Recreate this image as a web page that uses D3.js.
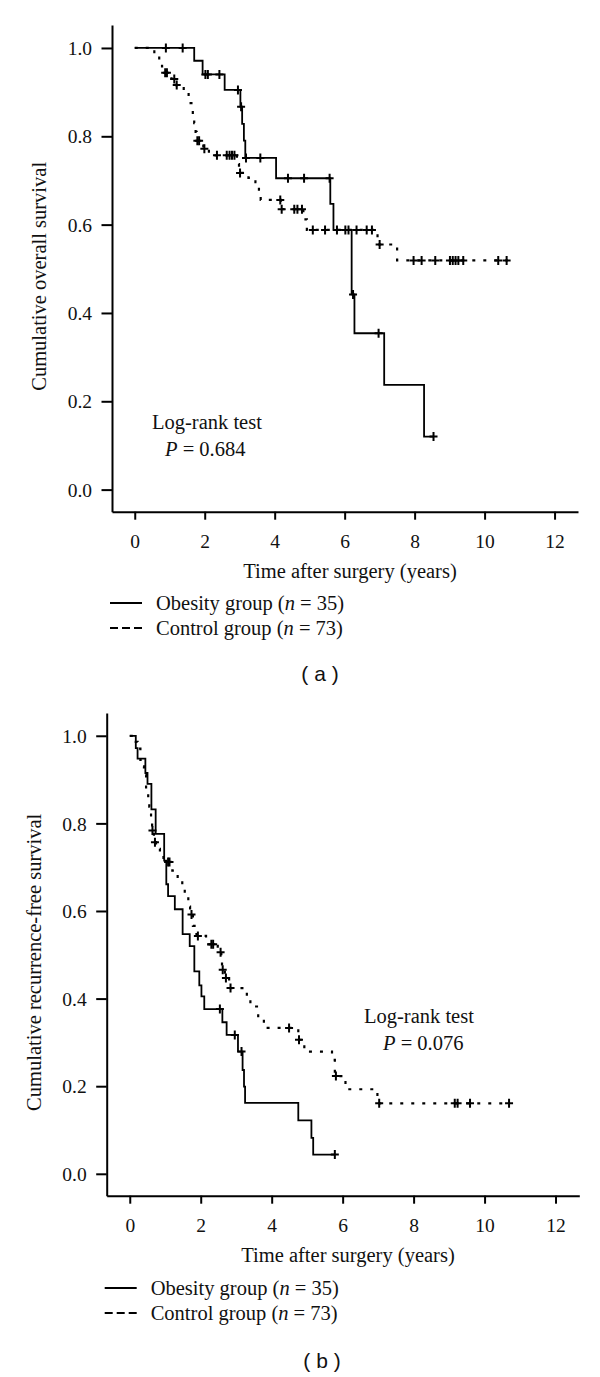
<!DOCTYPE html>
<html><head><meta charset="utf-8">
<script src="https://cdn.jsdelivr.net/npm/d3@7"></script>
<style>body{margin:0;background:#fff}svg{display:block}</style>
</head><body><svg id="c" width="600" height="1377"></svg>
<script>
// ---------- DATA ----------
const xTicks = [0, 2, 4, 6, 8, 10, 12];
const yTicks = [0.0, 0.2, 0.4, 0.6, 0.8, 1.0];
const groupLabels = ["Obesity group", "Control group"];
const groupN = [35, 73];

// Panel (a): overall survival
const timesA_obesity = [0, 1.70, 1.94, 2.57, 3.02, 3.07, 3.12, 3.16, 4.04, 5.59, 5.68, 6.20, 6.28, 7.13, 8.27, 8.54];
const survA_obesity  = [1.0, 0.971, 0.940, 0.905, 0.867, 0.828, 0.790, 0.751, 0.705, 0.647, 0.588, 0.442, 0.354, 0.237, 0.120, 0.120];
const censA_obesity  = [0.89, 1.37, 2.02, 2.09, 2.42, 2.95, 3.04, 3.18, 3.59, 4.38, 4.84, 5.57, 5.78, 6.11, 6.24, 6.97, 8.54];

const timesA_control = [0, 0.56, 0.70, 0.78, 0.85, 1.05, 1.18, 1.40, 1.54, 1.62, 1.66, 1.70, 1.74, 1.77, 1.96, 2.12, 2.92, 2.98, 3.25, 3.45, 3.55, 3.60, 4.18, 4.82, 4.92, 6.94, 7.50, 10.66];
const survA_control  = [1.0, 0.986, 0.972, 0.958, 0.944, 0.930, 0.916, 0.902, 0.875, 0.861, 0.847, 0.830, 0.810, 0.790, 0.772, 0.757, 0.737, 0.717, 0.706, 0.696, 0.676, 0.656, 0.635, 0.612, 0.588, 0.555, 0.519, 0.519];
const censA_control  = [0.87, 0.92, 1.13, 1.20, 1.79, 1.84, 1.99, 2.35, 2.63, 2.71, 2.78, 2.85, 3.01, 4.16, 4.20, 4.56, 4.65, 4.78, 5.09, 5.44, 6.02, 6.34, 6.63, 6.78, 7.00, 7.97, 8.20, 8.59, 9.01, 9.09, 9.17, 9.25, 9.39, 10.39, 10.63];

// Panel (b): recurrence-free survival
const timesB_obesity = [0, 0.17, 0.22, 0.44, 0.50, 0.61, 0.73, 0.97, 1.03, 1.08, 1.27, 1.49, 1.69, 1.82, 1.96, 2.02, 2.10, 2.61, 2.73, 3.05, 3.18, 3.22, 3.25, 4.75, 5.12, 5.17, 5.78];
const survB_obesity  = [1.0, 0.972, 0.948, 0.915, 0.890, 0.832, 0.776, 0.715, 0.661, 0.634, 0.604, 0.547, 0.520, 0.462, 0.430, 0.405, 0.376, 0.346, 0.317, 0.279, 0.237, 0.199, 0.162, 0.122, 0.082, 0.044, 0.044];
const censB_obesity  = [2.54, 2.96, 3.15, 5.78];

const timesB_control = [0, 0.17, 0.22, 0.30, 0.35, 0.40, 0.46, 0.52, 0.55, 0.60, 0.63, 0.68, 0.74, 0.85, 0.95, 1.20, 1.35, 1.48, 1.55, 1.65, 1.70, 1.78, 1.88, 2.15, 2.48, 2.58, 2.60, 2.68, 2.80, 3.30, 3.40, 3.62, 3.78, 4.75, 4.92, 5.70, 5.78, 6.08, 6.98, 10.70];
const survB_control  = [1.0, 0.986, 0.971, 0.945, 0.930, 0.910, 0.879, 0.855, 0.838, 0.810, 0.784, 0.757, 0.742, 0.727, 0.712, 0.692, 0.669, 0.650, 0.634, 0.610, 0.592, 0.566, 0.543, 0.524, 0.506, 0.486, 0.466, 0.447, 0.424, 0.401, 0.382, 0.352, 0.333, 0.306, 0.279, 0.260, 0.223, 0.193, 0.161, 0.161];
const censB_control  = [0.64, 0.71, 1.08, 1.12, 1.74, 1.92, 2.30, 2.35, 2.56, 2.62, 2.71, 2.84, 4.49, 4.77, 5.81, 7.03, 9.16, 9.24, 9.59, 10.69];

// ---------- DRAW ----------
const svg = d3.select("#c");
const serif = "'Liberation Serif', 'Times New Roman', serif";
const sans = "'Liberation Sans', Arial, sans-serif";

function survAt(times, surv, t) {
  let i = d3.bisectRight(times, t) - 1;
  if (i < 0) i = 0;
  return surv[i];
}

function panel(cfg) {
  const x = d3.scaleLinear().domain([-0.65, 12.67]).range([cfg.left, cfg.right]);
  const y = d3.scaleLinear().domain([-0.05, 1.052]).range([cfg.bottom, cfg.top]);
  const g = svg.append("g");

  const xa = g.append("g").attr("transform", `translate(0,${cfg.bottom})`)
    .call(d3.axisBottom(x).tickValues(xTicks).tickSize(8).tickSizeOuter(0).tickFormat(d3.format("d")));
  const ya = g.append("g").attr("transform", `translate(${cfg.left},0)`)
    .call(d3.axisLeft(y).tickValues(yTicks).tickSize(10.5).tickSizeOuter(0).tickFormat(d3.format(".1f")));
  [xa, ya].forEach(a => {
    a.select(".domain").attr("stroke", "#000").attr("stroke-width", 2);
    a.selectAll(".tick line").attr("stroke", "#000").attr("stroke-width", 2);
    a.selectAll(".tick text").attr("font-family", serif).attr("font-size", 19.5).attr("fill", "#111");
  });
  xa.selectAll(".tick text").attr("y", 36).attr("dy", 0);
  ya.selectAll(".tick text").attr("x", -20).attr("dy", "0.34em");

  g.append("text").attr("x", (cfg.left + cfg.right) / 2 + 5).attr("y", cfg.bottom + 66)
    .attr("text-anchor", "middle").attr("font-family", serif).attr("font-size", 20.5).attr("fill", "#111")
    .text("Time after surgery (years)");
  g.append("text").attr("transform", `translate(${cfg.ytitleX},${(cfg.top + cfg.bottom) / 2 + 8}) rotate(-90)`)
    .attr("text-anchor", "middle").attr("font-family", serif).attr("font-size", 20.5).attr("fill", "#111")
    .text(cfg.ytitle);

  const line = d3.line().x(d => x(d[0])).y(d => y(d[1])).curve(d3.curveStepAfter);
  function curve(times, surv, cens, dashed) {
    g.append("path").attr("d", line(times.map((t, i) => [t, surv[i]])))
      .attr("fill", "none").attr("stroke", "#000")
      .attr("stroke-width", dashed ? 2.2 : 1.8)
      .attr("stroke-dasharray", dashed ? "3,8" : null);
    g.append("g").selectAll("path").data(cens).join("path")
      .attr("d", t => {
        const cx = x(t), cy = y(survAt(times, surv, t));
        return `M${cx - 4},${cy}H${cx + 4}M${cx},${cy - 4.5}V${cy + 4.5}`;
      })
      .attr("stroke", "#000").attr("stroke-width", 2).attr("fill", "none");
  }
  curve(cfg.tc, cfg.sc, cfg.cc, true);
  curve(cfg.to, cfg.so, cfg.co, false);

  g.append("text").attr("x", cfg.lrX).attr("y", cfg.lrY)
    .attr("font-family", serif).attr("font-size", 20.5).attr("fill", "#111").text("Log-rank test");
  const p = g.append("text").attr("x", cfg.pX).attr("y", cfg.lrY + 27)
    .attr("font-family", serif).attr("font-size", 20.5).attr("fill", "#111");
  p.append("tspan").attr("font-style", "italic").text("P");
  p.append("tspan").text(" = " + cfg.pval);

  [0, 1].forEach(k => {
    const ly = cfg.legY + k * 25;
    g.append("line").attr("x1", cfg.left - 2).attr("x2", cfg.left + 30).attr("y1", ly).attr("y2", ly)
      .attr("stroke", "#000").attr("stroke-width", 2)
      .attr("stroke-dasharray", k === 1 ? "8,4" : null);
    const t = g.append("text").attr("x", cfg.left + 44).attr("y", ly + 7)
      .attr("font-family", serif).attr("font-size", 20.5).attr("fill", "#111");
    t.append("tspan").text(groupLabels[k] + " (");
    t.append("tspan").attr("font-style", "italic").text("n");
    t.append("tspan").text(" = " + groupN[k] + ")");
  });

  svg.append("text").attr("x", cfg.labX).attr("y", cfg.labY).attr("text-anchor", "middle")
    .attr("font-family", sans).attr("font-size", 21).attr("fill", "#111")
    .attr("xml:space", "preserve").text(cfg.label);
}

panel({
  left: 112, right: 578, top: 25, bottom: 511.7,
  ytitle: "Cumulative overall survival", ytitleX: 46,
  to: timesA_obesity, so: survA_obesity, co: censA_obesity,
  tc: timesA_control, sc: survA_control, cc: censA_control,
  lrX: 152, lrY: 429, pX: 165, pval: "0.684",
  legY: 603, label: "( a )", labX: 320, labY: 681
});
panel({
  left: 106.7, right: 579.3, top: 713, bottom: 1195.7,
  ytitle: "Cumulative recurrence-free survival", ytitleX: 41,
  to: timesB_obesity, so: survB_obesity, co: censB_obesity,
  tc: timesB_control, sc: survB_control, cc: censB_control,
  lrX: 364, lrY: 1023, pX: 383, pval: "0.076",
  legY: 1288, label: "( b )", labX: 322, labY: 1368
});
</script>
</body></html>
